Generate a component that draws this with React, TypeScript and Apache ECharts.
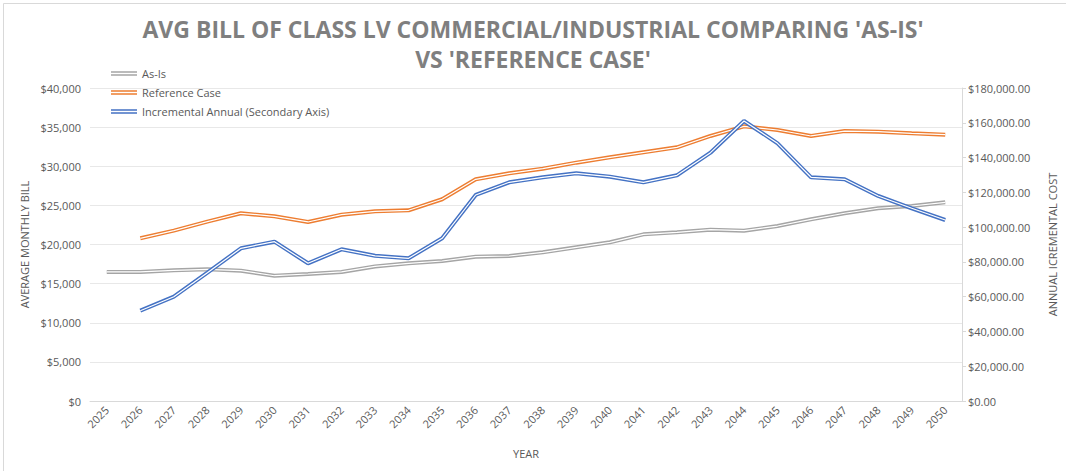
import React, { useEffect, useRef } from "react";
import * as echarts from "echarts";

const years = [
  "2025", "2026", "2027", "2028", "2029", "2030", "2031", "2032", "2033", "2034",
  "2035", "2036", "2037", "2038", "2039", "2040", "2041", "2042", "2043", "2044",
  "2045", "2046", "2047", "2048", "2049", "2050",
];

const asIs = [
  16500, 16500, 16700, 16830, 16650, 16010, 16230, 16490, 17200, 17590,
  17890, 18440, 18530, 19000, 19640, 20280, 21300, 21560, 21900, 21770,
  22360, 23220, 23990, 24630, 24920, 25390,
];

const referenceCase = [
  null, 20790, 21770, 22920, 23990, 23600, 22880, 23810, 24240, 24370,
  25780, 28330, 29100, 29690, 30460, 31140, 31780, 32420, 33870, 35100,
  34630, 33870, 34500, 34420, 34210, 34030,
];

const incrementalAnnual = [
  null, 51930, 59990, 73790, 87820, 91620, 79190, 87240, 83500, 82060,
  93570, 118470, 125770, 128650, 130950, 129000, 125770, 129800, 142800, 161030,
  148200, 128650, 127500, 117900, 110820, 104090,
];

const seriesNames = ["As-Is", "Reference Case", "Incremental Annual (Secondary Axis)"];
const colors = ["#a5a5a5", "#ed7d31", "#4472c4"];

const FONT = "'Open Sans', 'Liberation Sans', sans-serif";
const TXT = "#595959";

export default function App() {
  const ref = useRef<HTMLDivElement>(null);
  useEffect(() => {
    document.body.style.margin = "0";
    const chart = echarts.init(ref.current!, null, { renderer: "svg" });
    const datasets = [asIs, referenceCase, incrementalAnnual];
    const mainSeries: any[] = datasets.map((d, i) => ({
      name: seriesNames[i],
      type: "line",
      data: d,
      yAxisIndex: i === 2 ? 1 : 0,
      showSymbol: false,
      symbol: "none",
      lineStyle: { color: colors[i], width: 4 },
      itemStyle: { color: colors[i] },
      z: 2 + i * 2,
    }));
    const innerSeries: any[] = datasets.map((d, i) => ({
      name: "inner" + i,
      type: "line",
      data: d,
      yAxisIndex: i === 2 ? 1 : 0,
      showSymbol: false,
      symbol: "none",
      lineStyle: { color: "#ffffff", width: 1.2 },
      z: 3 + i * 2,
      silent: true,
    }));
    chart.setOption({
      animation: false,
      backgroundColor: "#ffffff",
      textStyle: { fontFamily: FONT },
      title: {
        text: "AVG BILL OF CLASS LV COMMERCIAL/INDUSTRIAL COMPARING 'AS-IS'\nVS 'REFERENCE CASE'",
        left: "center",
        top: 14,
        padding: 0,
        textStyle: {
          fontFamily: FONT,
          fontSize: 23,
          fontWeight: "bold",
          color: "#7f7f7f",
          lineHeight: 30,
        },
      },
      legend: {
        orient: "vertical",
        left: 111,
        top: 68,
        itemGap: 8,
        itemWidth: 26,
        itemHeight: 5,
        padding: 0,
        icon: "path://M0,0H30V1.6H0Z M0,3.4H30V5H0Z",
        data: seriesNames,
        textStyle: { fontFamily: FONT, fontSize: 11, color: TXT },
      },
      grid: { left: 90, right: 101, top: 88, bottom: 70 },
      xAxis: {
        type: "category",
        data: years,
        boundaryGap: true,
        name: "YEAR",
        nameLocation: "middle",
        nameGap: 47,
        nameTextStyle: { fontFamily: FONT, fontSize: 11, color: TXT },
        axisLine: { lineStyle: { color: "#d9d9d9" } },
        axisTick: { show: false },
        axisLabel: { rotate: 45, interval: 0, fontSize: 11, color: TXT, fontFamily: FONT, margin: 7 },
      },
      yAxis: [
        {
          type: "value",
          min: 0,
          max: 40000,
          interval: 5000,
          name: "AVERAGE MONTHLY BILL",
          nameLocation: "middle",
          nameGap: 58,
          nameTextStyle: { fontFamily: FONT, fontSize: 11, color: TXT },
          axisLine: { show: false },
          axisTick: { show: false },
          splitLine: { lineStyle: { color: "#e8e8e8" } },
          axisLabel: {
            fontSize: 11,
            color: TXT,
            fontFamily: FONT,
            margin: 9,
            formatter: (v: number) => "$" + v.toLocaleString("en-US"),
          },
        },
        {
          type: "value",
          min: 0,
          max: 180000,
          interval: 20000,
          position: "right",
          name: "ANNUAL ICREMENTAL COST",
          nameLocation: "middle",
          nameGap: 85,
          nameRotate: 90,
          nameTextStyle: { fontFamily: FONT, fontSize: 11, color: TXT },
          axisLine: { show: true, lineStyle: { color: "#d9d9d9" } },
          axisTick: { show: true, length: 4, lineStyle: { color: "#d9d9d9" } },
          splitLine: { show: false },
          axisLabel: {
            fontSize: 11,
            color: TXT,
            fontFamily: FONT,
            margin: 6,
            formatter: (v: number) =>
              "$" + v.toLocaleString("en-US", { minimumFractionDigits: 2, maximumFractionDigits: 2 }),
          },
        },
      ],
      graphic: [
        {
          type: "rect",
          left: 1,
          top: 1,
          shape: { width: 1063, height: 468 },
          style: { fill: "none", stroke: "#d9d9d9", lineWidth: 1 },
          silent: true,
          z: -1,
        },
      ],
      series: [...mainSeries, ...innerSeries],
    });
    return () => chart.dispose();
  }, []);
  return <div ref={ref} style={{ width: 1066, height: 471 }} />;
}
